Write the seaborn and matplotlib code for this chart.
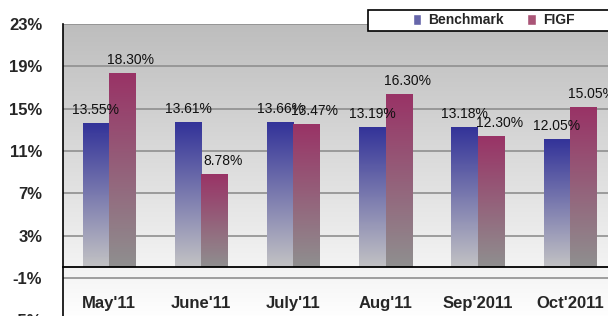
import numpy as np
import pandas as pd
import seaborn as sns
import matplotlib.pyplot as plt
from matplotlib.colors import LinearSegmentedColormap
from matplotlib.patches import Patch, Rectangle

# valores
months = ["May'11", "June'11", "July'11", "Aug'11", "Sep'2011", "Oct'2011"]
series = ["Benchmark", "FIGF"]
benchmark = [13.55, 13.61, 13.66, 13.19, 13.18, 12.05]
figf = [18.30, 8.78, 13.47, 16.30, 12.30, 15.05]
yticks = [-5, -1, 3, 7, 11, 15, 19, 23]

df = pd.DataFrame({
    "month": months * 2,
    "fund": [series[0]] * len(months) + [series[1]] * len(months),
    "ret": benchmark + figf,
})

sns.set_style("white")
plt.rcParams['font.family'] = ['Liberation Sans', 'DejaVu Sans']

fig = plt.figure(figsize=(6.08, 3.16), dpi=100)
ax = fig.add_axes([63 / 608, -4.3 / 316, 553 / 608, 296.3 / 316])

# fundo em degrade
bg = LinearSegmentedColormap.from_list("bg", [(0, "#ffffff"), (5 / 28, "#f3f3f3"), (1, "#bdbdbd")])
ax.imshow(np.linspace(0, 1, 256).reshape(-1, 1), extent=[-0.5, 5.5, -5, 23],
          origin="lower", cmap=bg, aspect="auto", zorder=0)

sns.barplot(data=df, x="month", y="ret", hue="fund", hue_order=series,
            palette=["#333399", "#993366"], width=0.57, saturation=1,
            legend=False, linewidth=0, ax=ax, zorder=2)

cmaps = [
    LinearSegmentedColormap.from_list("b", ["#c2c2c4", "#333399"]),
    LinearSegmentedColormap.from_list("f", ["#8f8f8f", "#993366"]),
]
grad = np.linspace(0, 1, 128).reshape(-1, 1)
offsets = [0, 6]
for cont, cmap, vals, dx in zip(ax.containers, cmaps, [benchmark, figf], offsets):
    for bar, v in zip(cont, vals):
        x, w = bar.get_x(), bar.get_width()
        ax.imshow(grad, extent=[x, x + w, 0, v], origin="lower", cmap=cmap,
                  aspect="auto", zorder=2)
        bar.set_facecolor("none")
        ax.annotate(f"{v:.2f}%", (x + w / 2, v), xytext=(dx, 5),
                    textcoords="offset points", ha="center", va="bottom",
                    fontsize=10, color="#111111", zorder=4)

ax.set_xlim(-0.5, 5.5)
ax.set_ylim(-5, 23)
ax.set_yticks(yticks)
ax.set_yticklabels([f"{t}%" for t in yticks], fontsize=12, fontweight="bold")
ax.grid(axis="y", color="#8f8f8f", linewidth=1.2)
ax.set_axisbelow(True)

ax.spines["top"].set_visible(False)
ax.spines["right"].set_visible(False)
ax.spines["left"].set_color("black")
ax.spines["left"].set_linewidth(1.2)
ax.spines["bottom"].set_position(("data", 0))
ax.spines["bottom"].set_color("black")
ax.spines["bottom"].set_linewidth(1.3)
ax.spines["bottom"].set_zorder(3)

ax.set_xticks(range(len(months)))
ax.set_xticklabels([])
ax.set_xticks(np.arange(0.5, len(months) - 0.5, 1), minor=True)
ax.tick_params(axis="x", which="major", length=0)
ax.tick_params(axis="x", which="minor", direction="out", length=7, width=1.2, color="black")
ax.tick_params(axis="y", direction="out", length=5, width=1.2, color="black", pad=10)
ax.set_xlabel("")
ax.set_ylabel("")

for i, m in enumerate(months):
    ax.text(i, -3.4, m, ha="center", va="center", fontsize=12, fontweight="bold")

# caixa da legenda
fig.patches.append(Rectangle((368 / 608, 1 - 31 / 316), 250 / 608, 21 / 316,
                             transform=fig.transFigure, facecolor="white",
                             edgecolor="black", linewidth=1.2, zorder=5))
handles = [Patch(facecolor="#6666aa", label=series[0]),
           Patch(facecolor="#aa5577", label=series[1])]
leg = fig.legend(handles=handles, loc="center left",
                 bbox_to_anchor=(406 / 608, 1 - 20.5 / 316),
                 ncol=2, frameon=False, borderpad=0, columnspacing=1.7,
                 handlelength=0.6, handleheight=0.8, handletextpad=0.5,
                 prop={"weight": "bold", "size": 10})
leg.set_zorder(6)

fig.savefig("out.png", dpi=100)
